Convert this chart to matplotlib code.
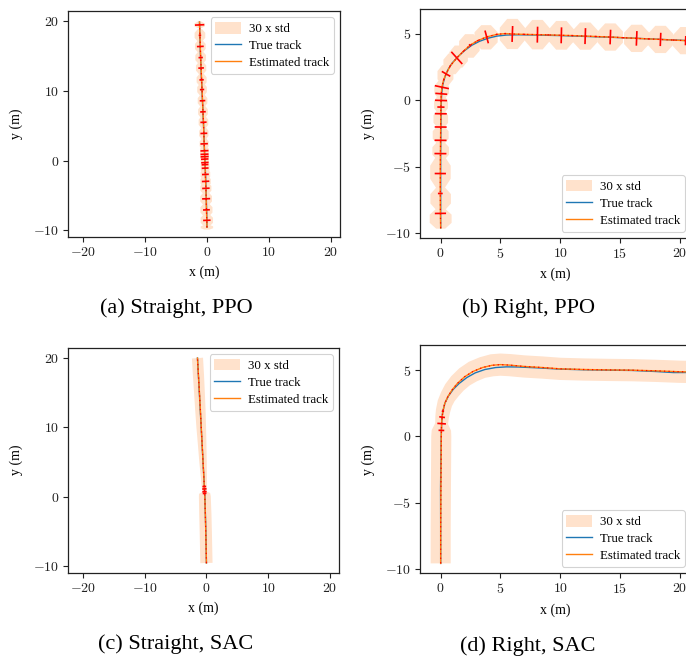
import numpy as np
import matplotlib
matplotlib.use("Agg")
import matplotlib.pyplot as plt
from matplotlib.patches import Polygon, Patch
from matplotlib.lines import Line2D
from matplotlib.collections import LineCollection
from matplotlib.ticker import FuncFormatter

plt.rcParams['font.family'] = ['Liberation Serif', 'DejaVu Serif']
plt.rcParams['mathtext.fontset'] = 'cm'

STD_SCALE = 30          # shaded region = 30 x std
SHADE = '#ffe2cc'
TRUE_C = '#1f77b4'
EST_C = '#ff7f0e'

# ---------------- (a) Straight, PPO ----------------
a_true_x = [0.00, -0.04, -0.10, -0.17, -0.25, -0.33, -0.40, -0.48, -0.57, -0.67, -0.77, -0.90, -1.02, -1.12, -1.20]
a_true_y = [-9.6, -7.5, -5.5, -3.5, -1.5, 0.0, 1.5, 3.5, 5.5, 7.5, 9.5, 12.0, 14.5, 17.0, 19.9]
a_est_x = [0.00, -0.02, -0.08, -0.13, -0.17, -0.22, -0.25, -0.29, -0.31, -0.33, -0.36, -0.37, -0.39, -0.40,
           -0.45, -0.50, -0.56, -0.64, -0.71, -0.79, -0.86, -0.94, -1.01, -1.07, -1.13, -1.18, -1.20]
a_est_y = [-9.6, -8.6, -7.1, -5.5, -4.0, -3.0, -2.0, -1.1, -0.6, -0.3, 0.2, 0.55, 0.9, 1.4,
           2.4, 3.9, 5.5, 7.0, 8.6, 10.2, 11.6, 13.3, 14.8, 16.4, 18.0, 19.5, 19.9]
a_mark = [0.0, 0.6, 0.55, 0.65, 0.6, 0.6, 0.55, 0.55, 0.55, 0.6, 0.6, 0.65, 0.65, 0.65,
          0.6, 0.55, 0.5, 0.45, 0.45, 0.35, 0.35, 0.45, 0.35, 0.55, 0.2, 0.75, 0.0]
a_std_x = [0.036, 0.036, 0.035, 0.034, 0.032, 0.030, 0.028, 0.026, 0.025, 0.024, 0.024, 0.024, 0.024, 0.025,
           0.026, 0.027, 0.028, 0.028, 0.028, 0.028, 0.029, 0.030, 0.031, 0.031, 0.031, 0.031, 0.012]
a_std_y = [0.012, 0.032, 0.034, 0.034, 0.030, 0.029, 0.029, 0.026, 0.024, 0.024, 0.024, 0.024, 0.024, 0.026,
           0.030, 0.032, 0.032, 0.032, 0.032, 0.032, 0.032, 0.032, 0.032, 0.032, 0.032, 0.016, 0.006]

# ---------------- (b) Right, PPO ----------------
b_true_x = [0.00, 0.00, 0.00, 0.02, 0.04, 0.08, 0.18, 0.35, 0.60, 0.95, 1.45, 2.00, 2.60, 3.25, 3.95,
            4.70, 5.50, 6.50, 8.00, 10.0, 12.0, 14.0, 16.0, 18.0, 20.0, 22.0]
b_true_y = [-9.6, -7.0, -4.0, -2.0, -0.5, 0.5, 1.2, 1.75, 2.30, 2.80, 3.30, 3.75, 4.15, 4.45, 4.68,
            4.84, 4.92, 4.94, 4.92, 4.88, 4.82, 4.76, 4.69, 4.61, 4.53, 4.45]
b_est_x = [0.00, -0.02, -0.03, -0.03, -0.02, -0.01, 0.00, 0.01, 0.02, 0.03, 0.05, 0.10, 0.25, 0.45,
           0.80, 1.35, 1.90, 2.45, 3.10, 3.85, 4.70, 5.40, 6.00, 7.00, 8.10, 9.00, 10.1, 11.0,
           12.1, 13.0, 14.2, 15.3, 16.4, 17.4, 18.4, 19.5, 20.5, 22.0]
b_est_y = [-9.6, -8.5, -7.0, -5.5, -4.0, -3.0, -2.0, -1.0, -0.5, 0.0, 0.5, 1.0, 1.55, 2.0,
           2.6, 3.2, 3.7, 4.15, 4.5, 4.78, 4.97, 5.03, 5.00, 4.97, 4.95, 4.93, 4.90, 4.88,
           4.84, 4.81, 4.77, 4.72, 4.67, 4.63, 4.59, 4.54, 4.50, 4.44]
b_mark = [0.0, 0.47, 0.2, 0.47, 0.5, 0.5, 0.5, 0.5, 0.3, 0.5, 0.5, 0.6, 0.05, 0.4,
          0.05, 0.65, 0.05, 0.1, 0.05, 0.5, 0.05, 0.05, 0.6, 0.05, 0.6, 0.05, 0.6, 0.05,
          0.6, 0.05, 0.55, 0.05, 0.55, 0.05, 0.5, 0.05, 0.35, 0.0]
b_cov_x = [0.00, 0.00, -0.02, 0.00, 0.00, 0.01, 0.03, 0.08, 0.40, 0.95, 1.50, 2.40, 3.80,
           6.00, 8.10, 10.1, 12.1, 14.2, 16.4, 18.4, 20.5]
b_cov_y = [-8.9, -7.4, -5.4, -3.8, -2.6, -1.4, -0.3, 0.8, 1.9, 2.75, 3.3, 4.1, 4.75,
           5.0, 4.95, 4.9, 4.84, 4.77, 4.67, 4.59, 4.5]
b_std_x = [0.033, 0.031, 0.031, 0.025, 0.024, 0.022, 0.021, 0.022, 0.024, 0.026, 0.028, 0.031, 0.035,
           0.038, 0.038, 0.038, 0.038, 0.038, 0.038, 0.038, 0.038]
b_std_y = [0.027, 0.031, 0.043, 0.025, 0.025, 0.025, 0.025, 0.025, 0.027, 0.028, 0.030, 0.032, 0.033,
           0.041, 0.040, 0.039, 0.037, 0.037, 0.037, 0.037, 0.037]

# ---------------- (c) Straight, SAC ----------------
c_true_x = [0.00, -0.04, -0.10, -0.17, -0.25, -0.33, -0.40, -0.55, -0.70, -0.85, -1.00, -1.15, -1.30, -1.45]
c_true_y = [-9.6, -7.5, -5.0, -2.5, 0.0, 1.5, 2.5, 5.0, 7.5, 10.0, 12.5, 15.0, 17.5, 20.0]
c_est_x = [0.00, -0.05, -0.11, -0.18, -0.26, -0.30, -0.31, -0.33, -0.35, -0.40, -0.55, -0.69,
           -0.84, -0.98, -1.13, -1.29, -1.45]
c_est_y = [-9.6, -7.5, -5.0, -2.5, 0.0, 0.45, 0.7, 1.1, 1.45, 2.5, 5.0, 7.5,
           10.0, 12.5, 15.0, 17.5, 20.0]
c_mark = [0.0, 0.0, 0.0, 0.0, 0.0, 0.3, 0.35, 0.35, 0.3, 0.0, 0.0, 0.0, 0.0, 0.0, 0.0, 0.0, 0.0]
c_std = [0.033, 0.033, 0.033, 0.033, 0.032, 0.030, 0.012, 0.013, 0.014, 0.016, 0.020, 0.023,
         0.026, 0.028, 0.029, 0.030, 0.030]

# ---------------- (d) Right, SAC ----------------
d_true_x = [0.00, 0.00, -0.01, 0.02, 0.05, 0.08, 0.16, 0.35, 0.65, 1.05, 1.55, 2.20, 2.90, 3.70,
            4.60, 5.50, 6.50, 8.00, 10.0, 12.0, 14.0, 16.0, 18.0, 19.5, 22.0]
d_true_y = [-9.6, -7.0, -4.0, -1.5, 0.0, 1.0, 1.8, 2.5, 3.05, 3.55, 4.00, 4.45, 4.80, 5.05,
            5.20, 5.25, 5.24, 5.18, 5.08, 5.03, 5.00, 4.98, 4.90, 4.82, 4.83]
d_est_x = [0.00, 0.00, 0.02, 0.04, 0.05, 0.06, 0.08, 0.12, 0.19, 0.35, 0.60, 0.95, 1.40, 2.00,
           2.70, 3.50, 4.30, 5.00, 5.80, 7.00, 8.50, 10.0, 12.0, 14.0, 16.0, 18.0, 20.0, 22.0]
d_est_y = [-9.6, -7.0, -4.0, -1.5, 0.0, 0.45, 0.96, 1.45, 1.90, 2.5, 3.0, 3.5, 4.0, 4.5,
           4.9, 5.2, 5.37, 5.42, 5.38, 5.28, 5.20, 5.10, 5.05, 5.02, 5.00, 4.95, 4.88, 4.85]
d_mark = [0.0, 0.0, 0.0, 0.0, 0.0, 0.24, 0.36, 0.24, 0.1, 0.0, 0.0, 0.0, 0.0, 0.0,
          0.0, 0.0, 0.0, 0.0, 0.0, 0.0, 0.0, 0.0, 0.0, 0.0, 0.0, 0.0, 0.0, 0.0]
d_std = [0.028, 0.028, 0.028, 0.028, 0.028, 0.027, 0.018, 0.019, 0.020, 0.021, 0.022, 0.024, 0.025, 0.026,
         0.027, 0.027, 0.028, 0.028, 0.028, 0.028, 0.028, 0.028, 0.028, 0.028, 0.028, 0.028, 0.028, 0.028]

captions = ['(a) Straight, PPO', '(b) Right, PPO', '(c) Straight, SAC', '(d) Right, SAC']
legend_labels = ['30 x std', 'True track', 'Estimated track']


def normals(x, y):
    x = np.asarray(x, float)
    y = np.asarray(y, float)
    tx, ty = np.gradient(x), np.gradient(y)
    n = np.hypot(tx, ty)
    return -ty / n, tx / n


def draw_cov_blobs(ax, cx, cy, sx, sy):
    ang = np.deg2rad(np.arange(0, 360, 45) + 22.5)
    for x0, y0, a, b in zip(cx, cy, sx, sy):
        verts = np.column_stack([x0 + STD_SCALE * a * np.cos(ang),
                                 y0 + STD_SCALE * b * np.sin(ang)])
        ax.add_patch(Polygon(verts, closed=True, facecolor=SHADE, edgecolor='none', zorder=1))


def draw_std_band(ax, x, y, s):
    x = np.asarray(x, float)
    y = np.asarray(y, float)
    w = STD_SCALE * np.asarray(s, float)
    nx, ny = normals(x, y)
    left = np.column_stack([x + nx * w, y + ny * w])
    right = np.column_stack([x - nx * w, y - ny * w])
    ax.add_patch(Polygon(np.vstack([left, right[::-1]]), closed=True,
                         facecolor=SHADE, edgecolor='none', zorder=1))


def draw_tracks(ax, tx, ty, ex, ey, mark):
    ax.plot(tx, ty, color=TRUE_C, lw=1.0, zorder=2)
    ax.plot(ex, ey, color=EST_C, lw=1.0, zorder=3)
    ax.plot(ex, ey, color='red', lw=0.9, ls=(0, (1.0, 2.6)), zorder=4)
    nx, ny = normals(ex, ey)
    ex = np.asarray(ex, float)
    ey = np.asarray(ey, float)
    h = np.asarray(mark, float)
    keep = h > 0
    segs = [[(x0 - a * h0, y0 - b * h0), (x0 + a * h0, y0 + b * h0)]
            for x0, y0, a, b, h0 in zip(ex[keep], ey[keep], nx[keep], ny[keep], h[keep])]
    ax.add_collection(LineCollection(segs, colors='red', linewidths=1.2, zorder=5))


def style_axes(ax, xlim, ylim, xticks, yticks, loc):
    ax.set_xlim(*xlim)
    ax.set_ylim(*ylim)
    ax.set_xticks(xticks)
    ax.set_yticks(yticks)
    fmt = FuncFormatter(lambda v, p: r'$%g$' % v)
    ax.xaxis.set_major_formatter(fmt)
    ax.yaxis.set_major_formatter(fmt)
    ax.tick_params(direction='out', length=3.5, width=0.8, labelsize=10, colors='#222222', pad=3)
    for sp in ax.spines.values():
        sp.set_linewidth(0.9)
        sp.set_color('#222222')
    ax.set_xlabel('x (m)', fontsize=10, labelpad=5)
    ax.set_ylabel('y (m)', fontsize=10, labelpad=7)
    handles = [Patch(facecolor=SHADE, edgecolor='none'),
               Line2D([], [], color=TRUE_C, lw=1.0),
               Line2D([], [], color=EST_C, lw=1.0)]
    leg = ax.legend(handles, legend_labels, loc=loc, fontsize=9.3, handlelength=2.0,
                    handleheight=1.0, labelspacing=0.3, borderpad=0.35, handletextpad=0.6,
                    framealpha=0.85, edgecolor='#cccccc', fancybox=True)
    leg.get_frame().set_linewidth(0.8)


W, H = 686, 656
fig = plt.figure(figsize=(W / 100, H / 100), dpi=100)


def px_axes(left, top, right, bottom):
    return fig.add_axes([left / W, 1 - bottom / H, (right - left) / W, (bottom - top) / H])


ax_a = px_axes(68, 11, 340, 237)
ax_b = px_axes(420, 9, 691, 238)
ax_c = px_axes(68, 347.7, 339, 572.7)
ax_d = px_axes(420, 345.3, 691, 573.3)

straight_lim = dict(xlim=(-22.4, 21.45), ylim=(-11.0, 21.5), xticks=[-20, -10, 0, 10, 20], yticks=[-10, 0, 10, 20])
right_lim = dict(xlim=(-1.73, 20.95), ylim=(-10.35, 6.88), xticks=[0, 5, 10, 15, 20], yticks=[-10, -5, 0, 5])

draw_cov_blobs(ax_a, a_est_x, a_est_y, a_std_x, a_std_y)
draw_tracks(ax_a, a_true_x, a_true_y, a_est_x, a_est_y, a_mark)
style_axes(ax_a, loc='upper right', **straight_lim)

draw_cov_blobs(ax_b, b_cov_x, b_cov_y, b_std_x, b_std_y)
draw_tracks(ax_b, b_true_x, b_true_y, b_est_x, b_est_y, b_mark)
style_axes(ax_b, loc='lower right', **right_lim)

draw_std_band(ax_c, c_est_x, c_est_y, c_std)
draw_tracks(ax_c, c_true_x, c_true_y, c_est_x, c_est_y, c_mark)
style_axes(ax_c, loc='upper right', **straight_lim)

draw_std_band(ax_d, d_est_x, d_est_y, d_std)
draw_tracks(ax_d, d_true_x, d_true_y, d_est_x, d_est_y, d_mark)
style_axes(ax_d, loc='lower right', **right_lim)

for (cx, cy), txt in zip([(176, 308), (528, 308), (176, 644), (528, 646)], captions):
    fig.text(cx / W, 1 - cy / H, txt, ha='center', va='center', fontsize=16)

fig.savefig('out.png', dpi=100)
